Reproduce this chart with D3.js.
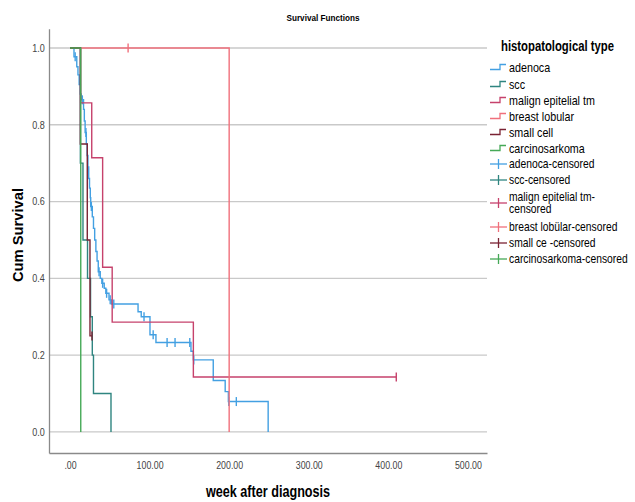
<!DOCTYPE html>
<html>
<head>
<meta charset="utf-8">
<script src="https://cdn.jsdelivr.net/npm/d3@7"></script>
<style>
  body { margin: 0; background: #fff; }
  text { font-family: "Liberation Sans", Arial, sans-serif; }
</style>
</head>
<body>
<div id="chart"></div>
<script>
// survival curves: step times (weeks) and survival after each step
const groups = ["adenoca", "scc", "malign epitelial tm", "breast lobular", "small cell", "carcinosarkoma"];
const censorLabels = ["adenoca-censored", "scc-censored", "malign epitelial tm-|censored",
  "breast lobülar-censored", "small ce -censored", "carcinosarkoma-censored"];
const colors = ["#43a0e2", "#2f8580", "#c6426c", "#f0707c", "#7a2333", "#46a957"];

const adenocaTime = [0, 5, 8.5, 10, 11.5, 13, 14, 17, 18, 19, 20.5, 21.5, 22.5, 23.5, 24.5, 25.5, 26, 28, 29.5, 31, 32.5, 34, 35.5, 38, 40, 43, 45, 49, 52, 85.5, 89.5, 100.5, 108, 152, 155, 180, 195, 199, 249];
const adenocaSurv = [1, 0.977, 0.951, 0.93, 0.905, 0.88, 0.865, 0.84, 0.81, 0.78, 0.75, 0.72, 0.69, 0.66, 0.635, 0.61, 0.587, 0.56, 0.53, 0.5, 0.47, 0.445, 0.417, 0.4, 0.387, 0.374, 0.361, 0.344, 0.333, 0.313, 0.3, 0.253, 0.233, 0.21, 0.1875, 0.134, 0.105, 0.079, 0];
const adenocaCensor = [6.5, 15.5, 20, 26.8, 36.5, 41, 46, 50.5, 55, 93, 104.5, 122, 132, 150.5, 155.5, 199.5, 209];

const sccTime = [0, 13, 16.3, 22, 25.8, 28, 29.5, 51.5];
const sccSurv = [1, 0.7, 0.5, 0.4, 0.3, 0.2, 0.1, 0];
const sccCensor = [];

const malignTime = [0, 13.4, 27.3, 41, 53, 155];
const malignSurv = [1, 0.857, 0.714, 0.429, 0.286, 0.143];
const malignCensor = [410];

const breastTime = [0, 200];
const breastSurv = [1, 0];
const breastCensor = [73];

const smallTime = [0, 13, 21.7, 25.1];
const smallSurv = [1, 0.75, 0.5, 0.25];
const smallCensor = [27.6];

const carcinoTime = [0, 13.5];
const carcinoSurv = [1, 0];
const carcinoCensor = [];

const xTicks = [0, 100, 200, 300, 400, 500];
const yTicks = [0, 0.2, 0.4, 0.6, 0.8, 1.0];

const series = [
  {time: adenocaTime, surv: adenocaSurv, censor: adenocaCensor},
  {time: sccTime, surv: sccSurv, censor: sccCensor},
  {time: malignTime, surv: malignSurv, censor: malignCensor},
  {time: breastTime, surv: breastSurv, censor: breastCensor},
  {time: smallTime, surv: smallSurv, censor: smallCensor},
  {time: carcinoTime, surv: carcinoSurv, censor: carcinoCensor}
];

const width = 635, height = 502;

const svg = d3.select("#chart")
  .append("svg")
    .attr("width", width)
    .attr("height", height);

const x = d3.scaleLinear().domain([-26.4, 524]).range([49, 487]);
const y = d3.scaleLinear().domain([-0.055, 1.05]).range([453, 28.8]);

// gridlines
svg.append("g")
  .selectAll("line")
  .data(yTicks)
  .enter()
  .append("line")
    .attr("x1", x.range()[0])
    .attr("x2", x.range()[1])
    .attr("y1", d => y(d))
    .attr("y2", d => y(d))
    .attr("stroke", "#c9c9c9")
    .attr("stroke-width", 1.3);

// Y axis
const yAxis = svg.append("g")
  .attr("transform", "translate(" + x.range()[0] + ",0)")
  .call(d3.axisLeft(y).tickValues(yTicks).tickFormat(d3.format(".1f")).tickSize(0).tickPadding(5));
yAxis.select(".domain").attr("stroke", "#8a8a8a").attr("stroke-width", 1.3);
yAxis.selectAll("text").attr("font-size", 10.5).attr("fill", "#444")
  .attr("transform", "scale(0.86,1)")
  .style("font-family", "'Liberation Sans', Arial, sans-serif");

// X axis
const xAxis = svg.append("g")
  .attr("transform", "translate(0," + y.range()[0] + ")")
  .call(d3.axisBottom(x).tickValues(xTicks)
    .tickFormat(d => d === 0 ? ".00" : d3.format(".2f")(d)).tickSize(0).tickPadding(9));
xAxis.select(".domain").attr("stroke", "#8a8a8a").attr("stroke-width", 1.3);
xAxis.selectAll("text").attr("font-size", 10.5).attr("fill", "#444")
  .attr("transform", "scale(0.84,1)")
  .style("font-family", "'Liberation Sans', Arial, sans-serif");

// curves
const line = d3.line()
  .x(d => x(d[0]))
  .y(d => y(d[1]))
  .curve(d3.curveStepAfter);

function survAt(s, t) {
  let v = s.surv[0];
  for (let i = 0; i < s.time.length; i++) if (s.time[i] <= t) v = s.surv[i];
  return v;
}

series.forEach(function(s, i) {
  const pts = s.time.map((t, j) => [t, s.surv[j]]);
  const lastT = d3.max([s.time[s.time.length - 1]].concat(s.censor));
  if (lastT > s.time[s.time.length - 1]) pts.push([lastT, s.surv[s.surv.length - 1]]);
  svg.append("path")
    .attr("d", line(pts))
    .attr("fill", "none")
    .attr("stroke", colors[i])
    .attr("stroke-width", 1.4);

  svg.append("g")
    .selectAll("line")
    .data(s.censor)
    .enter()
    .append("line")
      .attr("x1", d => x(d))
      .attr("x2", d => x(d))
      .attr("y1", d => y(survAt(s, d)) - 4.5)
      .attr("y2", d => y(survAt(s, d)) + 4.5)
      .attr("stroke", colors[i])
      .attr("stroke-width", 1.4);
});

// titles (squeezed a bit to match the condensed face)
function label(txt, tx, ty, size, sx, rot) {
  return svg.append("text")
    .attr("transform", "translate(" + tx + "," + ty + ")" + (rot ? "rotate(-90)" : "") + "scale(" + sx + ",1)")
    .attr("text-anchor", "middle")
    .attr("font-size", size).attr("font-weight", "bold")
    .text(txt);
}
label("Survival Functions", 323, 21, 9.5, 0.86, false);
label("Cum Survival", 23, 235, 15.5, 0.95, true);
label("week after diagnosis", 268, 497, 16, 0.79, false);

// legend
const legend = svg.append("g");
legend.append("text")
  .attr("transform", "translate(501,51)scale(0.73,1)")
  .attr("font-size", 15.5).attr("font-weight", "bold")
  .text("histopatological type");

const rowY = [67, 84, 100, 116, 132, 148];
groups.forEach(function(g, i) {
  const yy = rowY[i];
  legend.append("path")
    .attr("d", "M490," + (yy + 2.5) + "H500V" + (yy - 2.5) + "H506")
    .attr("fill", "none")
    .attr("stroke", colors[i])
    .attr("stroke-width", 1.3);
  legend.append("text")
    .attr("transform", "translate(509," + (yy + 4.5) + ")scale(0.86,1)")
    .attr("font-size", 12.5)
    .text(g);
});

const censorY = [164, 180, 203, 227, 243, 259];
censorLabels.forEach(function(g, i) {
  const yy = censorY[i];
  legend.append("line")
    .attr("x1", 490).attr("x2", 507).attr("y1", yy).attr("y2", yy)
    .attr("stroke", colors[i]).attr("stroke-width", 1.3);
  legend.append("line")
    .attr("x1", 498.5).attr("x2", 498.5).attr("y1", yy - 5).attr("y2", yy + 5)
    .attr("stroke", colors[i]).attr("stroke-width", 1.3);
  const parts = g.split("|");
  parts.forEach(function(p, k) {
    legend.append("text")
      .attr("transform", "translate(509," + (yy + 4 + (k - (parts.length - 1) / 2) * 11.5) + ")scale(0.86,1)")
      .attr("font-size", 12)
      .text(p);
  });
});
</script>
</body>
</html>
